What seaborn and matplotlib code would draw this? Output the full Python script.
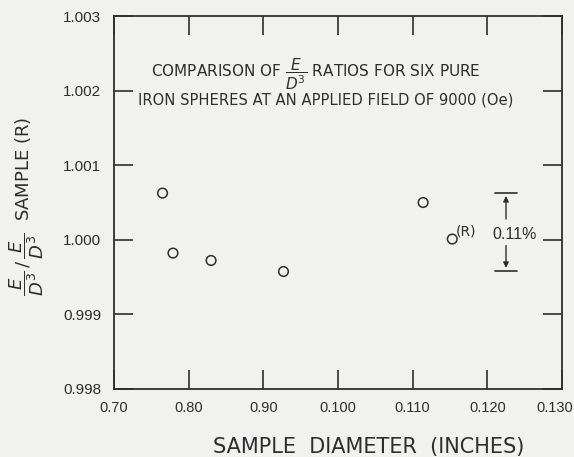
import numpy as np
import pandas as pd
import seaborn as sns
import matplotlib.pyplot as plt
import matplotlib.transforms as mtrans

# sample diameters (inches) and E/D^3 ratio relative to reference sample (R)
diameter = [0.0765, 0.0779, 0.0830, 0.0927, 0.1114, 0.1153]
ratio = [1.000626, 0.999822, 0.999723, 0.999575, 1.000500, 1.000010]

x_ticks = [0.070, 0.080, 0.090, 0.100, 0.110, 0.120, 0.130]
x_tick_labels = ['0.70', '0.80', '0.90', '0.100', '0.110', '0.120', '0.130']
y_ticks = [0.998, 0.999, 1.000, 1.001, 1.002, 1.003]
y_tick_labels = ['0.998', '0.999', '1.000', '1.001', '1.002', '1.003']

spread_x = 0.1225
spread_top = 1.000625
spread_bot = 0.999585

sns.set_style('ticks')
plt.rcParams['font.family'] = ['DejaVu Sans']
plt.rcParams['mathtext.fontset'] = 'dejavusans'
ink = '#2e2e2e'
bg = '#f1f1f0'
narrow = 'Liberation Sans'

df = pd.DataFrame({'diameter': diameter, 'ratio': ratio})

fig = plt.figure(figsize=(5.74, 4.57), dpi=100, facecolor=bg)
ax = fig.add_axes([114 / 574, 1 - 389 / 457, (562 - 114) / 574, (389 - 16) / 457])
ax.set_facecolor(bg)

sns.scatterplot(data=df, x='diameter', y='ratio', ax=ax, marker='o', s=48,
                facecolor='none', edgecolor=ink, linewidth=1.1, legend=False)

ax.set_xlim(0.070, 0.130)
ax.set_ylim(0.998, 1.003)
ax.set_xticks(x_ticks)
ax.set_xticklabels(x_tick_labels, family=narrow, fontsize=10.5)
ax.set_yticks(y_ticks)
ax.set_yticklabels(y_tick_labels, family=narrow, fontsize=11)
ax.tick_params(direction='in', length=14, width=1.2, color=ink, labelcolor=ink,
               top=True, right=True)
ax.tick_params(axis='x', pad=9)
ax.tick_params(axis='y', pad=9)
for sp in ax.spines.values():
    sp.set_color(ink)
    sp.set_linewidth(1.3)
ax.set_xlabel('')
ax.set_ylabel('')

last = ax.get_xticklabels()[-1]
last.set_ha('right')
last.set_transform(last.get_transform() + mtrans.ScaledTranslation(0.115, 0, fig.dpi_scale_trans))

# reference mark
ax.text(0.1158, 1.00002, '(R)', fontsize=10, color=ink, ha='left', va='bottom')

# spread indicator
ax.plot([spread_x - 0.0015, spread_x + 0.0015], [spread_top, spread_top], color=ink, lw=1.2)
ax.plot([spread_x - 0.0015, spread_x + 0.0015], [spread_bot, spread_bot], color=ink, lw=1.2)
ax.annotate('', xy=(spread_x, spread_top), xytext=(spread_x, 1.000241),
            arrowprops=dict(arrowstyle='-|>', color=ink, lw=1.0, mutation_scale=8))
ax.annotate('', xy=(spread_x, spread_bot), xytext=(spread_x, 0.999960),
            arrowprops=dict(arrowstyle='-|>', color=ink, lw=1.0, mutation_scale=8))
ax.text(0.1237, 1.000067, '0.11%', fontsize=11.5, color=ink,
        ha='center', va='center', family=narrow)

# title inside the plot
ax.text(0.0970, 1.002182, r'COMPARISON OF $\dfrac{E}{D^3}$ RATIOS FOR SIX PURE',
        fontsize=11, color=ink, ha='center', va='baseline')
ax.text(0.0984, 1.001820, 'IRON SPHERES AT AN APPLIED FIELD OF 9000 (Oe)',
        fontsize=10.6, color=ink, ha='center', va='baseline')

fig.text(369 / 574, 1 - 447 / 457, 'SAMPLE  DIAMETER  (INCHES)', fontsize=15,
         color=ink, ha='center', va='center')
fig.text(27 / 574, 1 - 206 / 457, r'$\dfrac{E}{D^3}\,/\,\dfrac{E}{D^3}$  SAMPLE (R)',
         fontsize=13, color=ink, ha='center', va='center', rotation=90)

fig.savefig('out.png', dpi=100, facecolor=bg)
